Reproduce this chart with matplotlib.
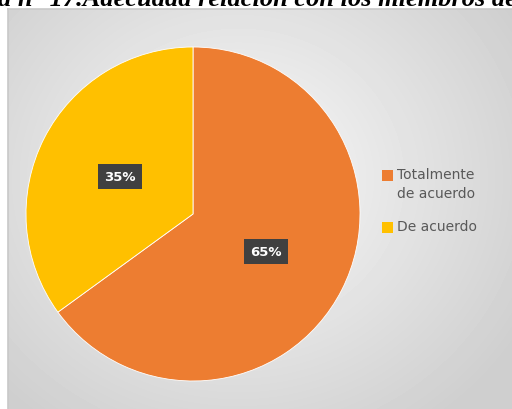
import numpy as np
import matplotlib.pyplot as plt
from matplotlib.patches import Rectangle

# data
labels = ['Totalmente\nde acuerdo', 'De acuerdo']
values = [65, 35]
colors = ['#ED7D31', '#FFC000']
title_text = 'a n° 17.Adecuada relación con los miembros de'

W, H = 512, 410
fig = plt.figure(figsize=(W / 100, H / 100), dpi=100)
fig.patch.set_facecolor('white')

# background of the chart area (radial gradient)
bg = fig.add_axes([8 / W, 0, (W - 8) / W, (H - 10) / H])
yy, xx = np.mgrid[0:400, 0:504]
d = np.sqrt(((xx - 230) / 330.0) ** 2 + ((yy - 170) / 300.0) ** 2)
d = np.clip(d, 0, 1)
g = 0.98 - 0.17 * d
bg.imshow(g, cmap='gray', vmin=0, vmax=1, aspect='auto', extent=[0, 504, 400, 0])
bg.set_xticks([])
bg.set_yticks([])
for s in ['right', 'bottom']:
    bg.spines[s].set_visible(False)
for s in ['top', 'left']:
    bg.spines[s].set_color('#c8c8c8')
    bg.spines[s].set_linewidth(1.2)

# pie
cx, cy, r = 193, 215, 167
ax = fig.add_axes([(cx - r) / W, (H - cy - r) / H, 2 * r / W, 2 * r / H])
ax.set_facecolor('none')
wedges, texts, autotexts = ax.pie(
    values, colors=colors, startangle=90, counterclock=False,
    autopct='%d%%', pctdistance=0.49,
    wedgeprops=dict(edgecolor='white', linewidth=0.6),
    textprops=dict(color='white', fontsize=9.5, fontweight='bold'))
for t in autotexts:
    t.set_bbox(dict(facecolor='#404040', edgecolor='none', boxstyle='square,pad=0.45'))
ax.set_xlim(-1, 1)
ax.set_ylim(-1, 1)
ax.set_aspect('equal')

# legend (square aligned with the first line of each label)
leg_tops = [168, 220]
for lab, col, top in zip(labels, colors, leg_tops):
    fig.patches.append(Rectangle((382 / W, (H - top - 14) / H), 11 / W, 11 / H,
                                 transform=fig.transFigure, facecolor=col,
                                 edgecolor='none'))
    fig.text(397 / W, (H - top) / H, lab, fontsize=10, color='#595959',
             ha='left', va='top', linespacing=1.5)

fig.text(-2 / W, (H - 6) / H, title_text, fontsize=19, fontweight='bold',
         fontstyle='italic', family='Liberation Serif', ha='left', va='baseline')

fig.savefig('out.png', dpi=100)
